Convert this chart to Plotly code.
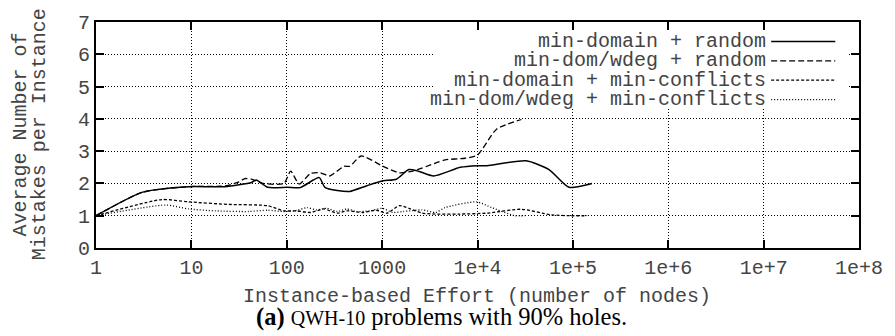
import plotly.graph_objects as go

# ---------------- data ----------------
names = ["min-domain + random", "min-dom/wdeg + random",
         "min-domain + min-conflicts", "min-dom/wdeg + min-conflicts"]

s1_x = [1, 3.09, 9.33, 22.4, 42.7, 47.9, 63.1, 102, 138, 219, 251, 339, 457, 692,
        1023, 1413, 1905, 2399, 3467, 6607, 10000, 12589, 32359, 56234, 91201, 158489]
s1_y = [1.0, 1.73, 1.9, 1.9, 2.03, 2.11, 1.88, 1.88, 1.87, 2.18, 1.88, 1.78, 1.75, 1.93,
        2.08, 2.13, 2.43, 2.38, 2.23, 2.5, 2.55, 2.55, 2.7, 2.43, 1.88, 2.0]

s2_x = [1, 3.09, 9.33, 22.4, 31.6, 36.3, 42.7, 56.2, 93.3, 110, 135, 178, 224, 282,
        398, 457, 603, 1023, 1514, 2089, 3631, 4571, 7413, 10000, 15849, 28840]
s2_y = [1.0, 1.73, 1.9, 1.92, 2.05, 2.15, 2.13, 2.0, 2.0, 2.38, 1.98, 2.31, 2.33, 2.23,
        2.53, 2.53, 2.85, 2.53, 2.33, 2.38, 2.63, 2.73, 2.78, 2.88, 3.68, 3.98]

s3_x = [1, 4.9, 9.33, 24.5, 63.1, 93.3, 126, 178, 245, 339, 427, 631, 871, 1122,
        1514, 1905, 2630, 3631, 6310, 12589, 28840, 58884, 93325, 141254]
s3_y = [1.0, 1.5, 1.43, 1.35, 1.31, 1.15, 1.15, 1.1, 1.21, 1.08, 1.15, 1.1, 1.17, 1.08,
        1.31, 1.23, 1.08, 1.05, 1.05, 1.08, 1.2, 1.03, 1.0, 1.0]

s4_x = [1, 5.37, 9.33, 17.8, 39.8, 63.1, 93.3, 120, 166, 204, 263, 339, 427, 537,
        741, 1000, 1288, 1660, 2630, 3631, 4571, 9772, 14125, 24547, 31623]
s4_y = [1.0, 1.33, 1.21, 1.15, 1.13, 1.17, 1.13, 1.15, 1.25, 1.18, 1.23, 1.13, 1.21, 1.13,
        1.15, 1.23, 1.1, 1.13, 1.18, 1.1, 1.25, 1.43, 1.25, 1.0, 1.0]

x_tickvals = [1, 10, 100, 1000, 1e4, 1e5, 1e6, 1e7, 1e8]
x_ticktext = ["1", "10", "100", "1000", "1e+4", "1e+5", "1e+6", "1e+7", "1e+8"]
y_tickvals = [0, 1, 2, 3, 4, 5, 6, 7]

# ---------------- styles ----------------
MONO = "Liberation Mono"
TXT = "#444444"
dashes = ["solid", "6px,3px", "3px,2px", "1px,2px"]
widths = [1.5, 1.3, 1.3, 1.3]

fig = go.Figure()
for xs, ys, d, w in zip([s1_x, s2_x, s3_x, s4_x], [s1_y, s2_y, s3_y, s4_y], dashes, widths):
    fig.add_trace(go.Scatter(x=xs, y=ys, mode="lines",
                             line=dict(color="black", width=w, dash=d,
                                       shape="spline", smoothing=0.6),
                             showlegend=False, hoverinfo="skip"))

axis_common = dict(
    showline=True, linewidth=2, linecolor="black", mirror="allticks",
    ticks="inside", ticklen=8, tickwidth=1.5, tickcolor="black",
    showgrid=True, gridcolor="black", gridwidth=1, griddash="1px,2px",
    zeroline=False,
    tickfont=dict(family=MONO, size=20, color=TXT),
)

fig.update_xaxes(type="log", range=[0, 8], tickmode="array",
                 tickvals=x_tickvals, ticktext=x_ticktext, **axis_common)
fig.update_yaxes(range=[0, 7], tickmode="array", tickvals=y_tickvals, **axis_common)

W, H = 895, 336
L, R, T, B = 96, 26, 15, 88
PW, PH = W - L - R, H - T - B


def px(x):
    return (x - L) / PW


def py(y):
    return (T + PH - y) / PH


shapes = []
annotations = []

# legend box (white, hides grid)
shapes.append(dict(type="rect", xref="paper", yref="paper",
                   x0=px(438), x1=px(857), y0=py(103), y1=py(24),
                   fillcolor="white", line=dict(width=0), layer="above"))
leg_y = [35, 55, 75, 95]
for name, d, w, yy in zip(names, dashes, widths, leg_y):
    annotations.append(dict(text=name, xref="paper", yref="paper",
                            x=px(777), y=py(yy), xanchor="right", yanchor="middle",
                            showarrow=False, font=dict(family=MONO, size=20, color=TXT)))
    shapes.append(dict(type="line", xref="paper", yref="paper",
                       x0=px(780), x1=px(845), y0=py(yy), y1=py(yy),
                       line=dict(color="black", width=w, dash=d), layer="above"))

# axis titles
annotations.append(dict(text="Instance-based Effort (number of nodes)", xref="paper", yref="paper",
                        x=px(482), y=py(298), xanchor="center", yanchor="middle",
                        showarrow=False, font=dict(family=MONO, size=20, color=TXT)))
annotations.append(dict(text="Average Number of", xref="paper", yref="paper",
                        x=px(20), y=py(131), xanchor="center", yanchor="middle", textangle=-90,
                        showarrow=False, font=dict(family=MONO, size=20, color=TXT)))
annotations.append(dict(text="Mistakes per Instance", xref="paper", yref="paper",
                        x=px(39), y=py(131), xanchor="center", yanchor="middle", textangle=-90,
                        showarrow=False, font=dict(family=MONO, size=20, color=TXT)))
# caption
annotations.append(dict(text="<b>(a)</b> <span style='font-size:20px'>QWH-10</span> problems with 90% holes.",
                        xref="paper", yref="paper",
                        x=px(446), y=py(319), xanchor="center", yanchor="middle",
                        showarrow=False, font=dict(family="Liberation Serif", size=24.5, color="black")))

fig.update_layout(width=W, height=H, margin=dict(l=L, r=R, t=T, b=B),
                  paper_bgcolor="white", plot_bgcolor="white",
                  shapes=shapes, annotations=annotations, showlegend=False)

fig.write_html("out.html")
